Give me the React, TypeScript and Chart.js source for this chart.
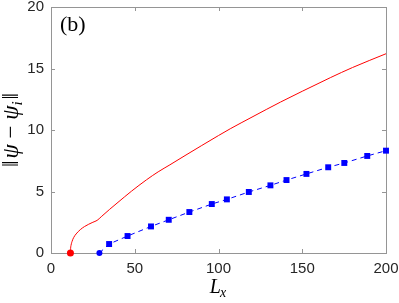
import React, { useEffect, useRef } from "react";
import { Chart, registerables } from "chart.js";
Chart.register(...registerables);

// ---- data ----
const xTicks = [0, 50, 100, 150, 200];
const yTicks = [0, 5, 10, 15, 20];

const redX = [11.6, 11.7, 12.0, 12.6, 13.5, 15, 17.5, 20, 25, 27.5, 30, 35, 40, 48, 57, 64, 71, 80, 90, 100, 107, 120, 137, 150, 167, 180, 200];
const redY = [0, 0.35, 0.65, 0.95, 1.25, 1.55, 1.9, 2.15, 2.5, 2.65, 2.95, 3.55, 4.12, 5.02, 5.95, 6.6, 7.17, 7.92, 8.74, 9.55, 10.1, 11.05, 12.27, 13.15, 14.27, 15.08, 16.2];

const blueX = [28.9, 34.7, 45.7, 59.7, 70.3, 82.6, 96, 105, 118.1, 131, 140.6, 152.5, 165.5, 175.1, 188.8, 200];
const blueY = [0, 0.73, 1.38, 2.16, 2.7, 3.33, 3.98, 4.36, 4.96, 5.5, 5.93, 6.43, 6.97, 7.32, 7.89, 8.32];

const panelLabel = "(b)";

const SANS = "'Liberation Sans', Arial, Helvetica, sans-serif";
const SERIF = "'Liberation Serif', 'DejaVu Serif', serif";
const AXIS_GRAY = "#959595";
const TEXT = "#262626";

export default function App() {
  const ref = useRef<HTMLCanvasElement>(null);

  useEffect(() => {
    if (!ref.current) return;

    const frame = {
      id: "frame",
      beforeDatasetsDraw(chart: any) {
        const ctx = chart.ctx;
        const a = chart.chartArea;
        const xs = chart.scales.x;
        const ys = chart.scales.y;
        ctx.save();
        ctx.strokeStyle = AXIS_GRAY;
        ctx.lineWidth = 1;
        ctx.strokeRect(Math.round(a.left) + 0.5, Math.round(a.top) + 0.5, Math.round(a.right - a.left), Math.round(a.bottom - a.top));
        const tl = 4;
        ctx.beginPath();
        for (const v of xTicks) {
          const px = Math.round(xs.getPixelForValue(v)) + 0.5;
          ctx.moveTo(px, a.bottom);
          ctx.lineTo(px, a.bottom - tl);
          ctx.moveTo(px, a.top);
          ctx.lineTo(px, a.top + tl);
        }
        for (const v of yTicks) {
          const py = Math.round(ys.getPixelForValue(v)) + 0.5;
          ctx.moveTo(a.left, py);
          ctx.lineTo(a.left + tl, py);
          ctx.moveTo(a.right, py);
          ctx.lineTo(a.right - tl, py);
        }
        ctx.stroke();
        ctx.restore();
      },
      afterDraw(chart: any) {
        const ctx = chart.ctx;
        const a = chart.chartArea;
        ctx.save();
        ctx.fillStyle = "#000";
        ctx.textAlign = "left";
        ctx.textBaseline = "alphabetic";

        // panel label
        ctx.font = `22px ${SERIF}`;
        ctx.fillText(panelLabel, 60, 31);

        // x title L_x
        const bigI = `italic 20px ${SERIF}`;
        const smallI = `italic 14px ${SERIF}`;
        ctx.font = bigI;
        const wL = ctx.measureText("L").width;
        ctx.font = smallI;
        const wx = ctx.measureText("x").width;
        const cx = (a.left + a.right) / 2;
        const sx = cx - (wL + wx) / 2;
        ctx.font = bigI;
        ctx.fillText("L", sx, 293);
        ctx.font = smallI;
        ctx.fillText("x", sx + wL - 1, 296.5);

        // y title ||psi - psi_i||
        const norm = `23px ${SERIF}`;
        const ital = `italic 23px ${SERIF}`;
        const sub = `italic 15px ${SERIF}`;
        const pieces = [
          { t: "\u2016", f: norm, dy: 0, gap: 2 },
          { t: "\u03C8", f: ital, dy: 0, gap: 0 },
          { t: " \u2212 ", f: norm, dy: 0, gap: 0 },
          { t: "\u03C8", f: ital, dy: 0, gap: 0 },
          { t: "i", f: sub, dy: 4, gap: 2 },
          { t: "\u2016", f: norm, dy: 0, gap: 0 },
        ];
        let total = 0;
        const widths: number[] = [];
        for (const p of pieces) {
          ctx.font = p.f;
          const w = ctx.measureText(p.t).width + p.gap;
          widths.push(w);
          total += w;
        }
        ctx.translate(17.5, (a.top + a.bottom) / 2);
        ctx.rotate(-Math.PI / 2);
        let x = -total / 2;
        pieces.forEach((p, i) => {
          ctx.font = p.f;
          ctx.fillText(p.t, x, p.dy);
          x += widths[i];
        });
        ctx.restore();
      },
    };

    const chart = new Chart(ref.current, {
      type: "scatter",
      data: {
        datasets: [
          {
            data: redX.map((x, i) => ({ x, y: redY[i] })),
            showLine: true,
            borderColor: "#ff0000",
            backgroundColor: "#ff0000",
            borderWidth: 1,
            cubicInterpolationMode: "monotone",
            pointRadius: (c: any) => (c.dataIndex === 0 ? 3.5 : 0),
            pointStyle: "circle",
            pointBorderWidth: 0,
            clip: false,
          },
          {
            data: blueX.map((x, i) => ({ x, y: blueY[i] })),
            showLine: true,
            borderColor: "#0000ff",
            backgroundColor: "#0000ff",
            borderWidth: 1,
            borderDash: [5, 4],
            tension: 0,
            pointStyle: (c: any) => (c.dataIndex === 0 ? "circle" : "rect"),
            pointRadius: (c: any) => (c.dataIndex === 0 ? 3 : 4.2),
            pointBorderWidth: 0,
            clip: false,
          },
        ],
      },
      options: {
        responsive: false,
        devicePixelRatio: 1,
        animation: false,
        events: [],
        layout: { padding: { top: 7, right: 13, left: 0, bottom: 0 } },
        plugins: { legend: { display: false }, tooltip: { enabled: false } },
        scales: {
          x: {
            type: "linear",
            min: 0,
            max: 200,
            afterBuildTicks: (s: any) => {
              s.ticks = xTicks.map((v) => ({ value: v }));
            },
            afterFit: (s: any) => {
              s.height = 50;
              s.paddingLeft = 0;
              s.paddingRight = 0;
            },
            grid: { display: false, drawTicks: false },
            border: { display: false },
            ticks: { font: { family: SANS, size: 15 }, color: TEXT, padding: 7, maxRotation: 0 },
          },
          y: {
            type: "linear",
            min: 0,
            max: 20,
            afterBuildTicks: (s: any) => {
              s.ticks = yTicks.map((v) => ({ value: v }));
            },
            afterFit: (s: any) => {
              s.width = 51;
              s.paddingTop = 0;
              s.paddingBottom = 0;
            },
            grid: { display: false, drawTicks: false },
            border: { display: false },
            ticks: { font: { family: SANS, size: 15 }, color: TEXT, padding: 7 },
          },
        },
      } as any,
      plugins: [frame],
    });
    return () => chart.destroy();
  }, []);

  return (
    <div style={{ position: "fixed", left: 0, top: 0, width: 399, height: 303, background: "#fff" }}>
      <canvas ref={ref} width={399} height={303} style={{ display: "block" }} />
    </div>
  );
}
